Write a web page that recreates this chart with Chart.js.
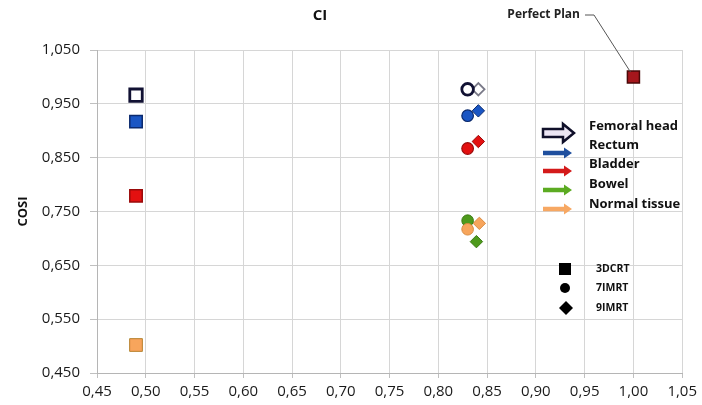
<!DOCTYPE html>
<html><head><meta charset="utf-8">
<script src="https://cdn.jsdelivr.net/npm/chart.js@4.4.1/dist/chart.umd.min.js"></script>
<style>html,body{margin:0;padding:0;background:#fff}</style>
</head><body>
<canvas id="c" width="702" height="405"></canvas>
<script>
// ---- data ----
const organs = ['Femoral head', 'Rectum', 'Bladder', 'Bowel', 'Normal tissue'];
const techniques = ['3DCRT', '7IMRT', '9IMRT'];
const ci3DCRT = [0.49, 0.49, 0.49, 0.49, 0.49];
const cosi3DCRT = [0.966, 0.917, 0.779, 0.502, 0.502];
const ci7IMRT = [0.83, 0.83, 0.83, 0.83, 0.83];
const cosi7IMRT = [0.977, 0.928, 0.867, 0.733, 0.717];
const ci9IMRT = [0.841, 0.841, 0.841, 0.839, 0.842];
const cosi9IMRT = [0.977, 0.937, 0.880, 0.694, 0.728];
const perfectCI = [1.0];
const perfectCOSI = [1.0];
const xTicks = [0.45, 0.50, 0.55, 0.60, 0.65, 0.70, 0.75, 0.80, 0.85, 0.90, 0.95, 1.00, 1.05];
const yTicks = [0.45, 0.55, 0.65, 0.75, 0.85, 0.95, 1.05];

// ---- styles ----
const organFill = ['#ffffff', '#1a56c4', '#e31010', '#4e9a1c', '#f7a55c'];
const organBorder = ['#111133', '#0b2a6e', '#9a0a0a', '#3a7a12', '#d98a40'];
const diamondBorder = ['#7a7a88', '#0b2a6e', '#9a0a0a', '#3a7a12', '#d98a40'];
const arrowColor = ['#ece6f4', '#1f4f9e', '#d41a1a', '#5cab22', '#f7a863'];
const FONT = "'Open Sans', 'DejaVu Sans', sans-serif";

function pts(xs, ys) { return xs.map((x, i) => ({ x: x, y: ys[i] })); }

const datasets = [
  {
    label: 'Perfect Plan', data: pts(perfectCI, perfectCOSI), order: 0,
    pointStyle: 'rect', pointRadius: 8.5, backgroundColor: '#a5161c', borderColor: '#4a0808', borderWidth: 1.5
  },
  {
    label: techniques[0], data: pts(ci3DCRT, cosi3DCRT), order: 1,
    pointStyle: 'rect', pointRadius: 8.8,
    backgroundColor: organFill, borderColor: organBorder,
    borderWidth: [2.8, 1.5, 1.5, 1, 1]
  },
  {
    label: techniques[1], data: pts(ci7IMRT, cosi7IMRT), order: 2,
    pointStyle: 'circle', pointRadius: 5.8,
    backgroundColor: organFill, borderColor: organBorder,
    borderWidth: [2.8, 1.2, 1.2, 1, 1]
  },
  {
    label: techniques[2], data: pts(ci9IMRT, cosi9IMRT), order: 3,
    pointStyle: 'rectRot', pointRadius: 6.2,
    backgroundColor: organFill, borderColor: diamondBorder,
    borderWidth: [1.8, 1, 1, 1, 1]
  }
];

const decor = {
  id: 'decor',
  afterDraw(chart) {
    const ctx = chart.ctx;
    const xs = chart.scales.x, ys = chart.scales.y;
    ctx.save();
    ctx.textBaseline = 'middle';
    // title
    ctx.fillStyle = '#111';
    ctx.font = 'bold 15px ' + FONT;
    ctx.textAlign = 'center';
    ctx.fillText('CI', 320, 16);
    // perfect plan annotation
    ctx.font = 'bold 12px ' + FONT;
    ctx.textAlign = 'right';
    ctx.fillStyle = '#222';
    ctx.fillText('Perfect Plan', 580, 15);
    const px = xs.getPixelForValue(perfectCI[0]), py = ys.getPixelForValue(perfectCOSI[0]);
    ctx.strokeStyle = '#555';
    ctx.lineWidth = 1;
    ctx.beginPath();
    ctx.moveTo(585, 15); ctx.lineTo(594, 15); ctx.lineTo(px - 3, py - 5);
    ctx.stroke();
    // organ arrows legend
    const arrowY = [133, 153, 171, 190, 209];
    const textY = [126, 145, 164, 184, 204];
    organs.forEach((name, i) => {
      const big = i === 0;
      const x0 = 543, x1 = big ? 574 : 572, y = arrowY[i];
      const bh = big ? 8 : 4.5, hw = big ? 11 : 8, hh = big ? 18 : 11;
      ctx.beginPath();
      ctx.moveTo(x0, y - bh / 2);
      ctx.lineTo(x1 - hw, y - bh / 2);
      ctx.lineTo(x1 - hw, y - hh / 2);
      ctx.lineTo(x1, y);
      ctx.lineTo(x1 - hw, y + hh / 2);
      ctx.lineTo(x1 - hw, y + bh / 2);
      ctx.lineTo(x0, y + bh / 2);
      ctx.closePath();
      ctx.fillStyle = arrowColor[i];
      ctx.fill();
      if (big) { ctx.strokeStyle = '#10102a'; ctx.lineWidth = 2.5; ctx.lineJoin = 'miter'; ctx.stroke(); }
      ctx.fillStyle = '#111';
      ctx.font = 'bold 13px ' + FONT;
      ctx.textAlign = 'left';
      ctx.fillText(name, 589, textY[i]);
    });
    // technique legend
    ctx.fillStyle = '#000';
    ctx.fillRect(559, 263, 12, 12);
    ctx.beginPath(); ctx.arc(565, 288, 5, 0, Math.PI * 2); ctx.fill();
    ctx.beginPath();
    ctx.moveTo(566, 301); ctx.lineTo(573, 308); ctx.lineTo(566, 315); ctx.lineTo(559, 308); ctx.closePath(); ctx.fill();
    ctx.font = 'bold 10.5px ' + FONT;
    ctx.fillStyle = '#111';
    const ty = [269, 288, 308];
    techniques.forEach((t, i) => ctx.fillText(t, 596, ty[i]));
    ctx.restore();
  }
};

new Chart(document.getElementById('c'), {
  type: 'scatter',
  data: { datasets: datasets },
  options: {
    responsive: false,
    animation: false,
    devicePixelRatio: 1,
    layout: { padding: { left: 0, right: 16, top: 50, bottom: 0 } },
    plugins: { legend: { display: false }, tooltip: { enabled: false }, title: { display: false } },
    scales: {
      x: {
        type: 'linear', min: 0.45, max: 1.05,
        afterBuildTicks: s => { s.ticks = xTicks.map(v => ({ value: v })); },
        afterFit: s => { s.height = 32; },
        grid: { color: '#d6d6d6', lineWidth: 1, tickLength: 5, tickColor: '#c0c0c0' },
        border: { color: '#b5b5b5' },
        ticks: {
          padding: 5, color: '#1a1a1a', font: { family: FONT, size: 15 },
          maxRotation: 0, autoSkip: false,
          callback: v => v.toFixed(2).replace('.', ',')
        }
      },
      y: {
        type: 'linear', min: 0.45, max: 1.05,
        afterBuildTicks: s => { s.ticks = yTicks.map(v => ({ value: v })); },
        afterFit: s => { s.width = 97; },
        grid: { color: '#d6d6d6', lineWidth: 1, tickLength: 7, tickColor: '#c0c0c0' },
        border: { color: '#b5b5b5' },
        title: { display: true, text: 'COSI', color: '#111', font: { family: FONT, size: 13, weight: 'bold' }, padding: { top: 15, bottom: 0 } },
        ticks: {
          padding: 10, color: '#1a1a1a', font: { family: FONT, size: 15 },
          autoSkip: false,
          callback: v => v.toFixed(3).replace('.', ',')
        }
      }
    }
  },
  plugins: [decor]
});
</script>
</body></html>
